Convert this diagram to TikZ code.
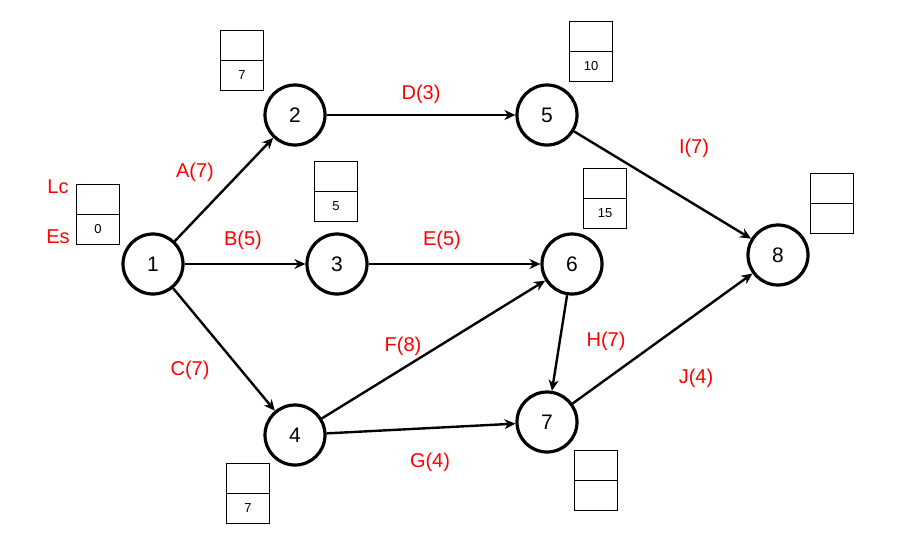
\documentclass[tikz,border=0pt]{standalone}
\usepackage{fontspec}
\setmainfont{Liberation Sans}
\usetikzlibrary{arrows.meta}
\begin{document}
\begin{tikzpicture}[x=1pt,y=-1pt,
  ev/.style={circle,draw,line width=3.2pt,minimum size=60pt,inner sep=0pt,font=\fontsize{21}{21}\selectfont},
  act/.style={-{Stealth[length=11pt,width=10pt]},line width=2.4pt},
  lab/.style={text=red,font=\fontsize{20}{20}\selectfont},
  cell/.style={draw,line width=1pt,minimum width=43pt,minimum height=30pt,inner sep=0pt,font=\fontsize{13}{13}\selectfont}]
\useasboundingbox (0,0) rectangle (909,550);
\node[ev] (n1) at (153,264) {1};
\node[ev] (n2) at (295,115) {2};
\node[ev] (n3) at (337,264) {3};
\node[ev] (n4) at (295,435) {4};
\node[ev] (n5) at (547,115) {5};
\node[ev] (n6) at (572,264) {6};
\node[ev] (n7) at (547,422) {7};
\node[ev] (n8) at (778,255) {8};
\draw[act] (n1) -- (n2);
\draw[act] (n1) -- (n3);
\draw[act] (n1) -- (n4);
\draw[act] (n2) -- (n5);
\draw[act] (n3) -- (n6);
\draw[act] (n4) -- (n6);
\draw[act] (n4) -- (n7);
\draw[act] (n6) -- (n7);
\draw[act] (n5) -- (n8);
\draw[act] (n7) -- (n8);
\node[lab] (lA) at (195,172) {A(7)};
\node[lab] (lB) at (243,240) {B(5)};
\node[lab] (lC) at (190,370) {C(7)};
\node[lab] (lD) at (421,94) {D(3)};
\node[lab] (lE) at (442,240) {E(5)};
\node[lab] (lF) at (403,346) {F(8)};
\node[lab] (lG) at (430,462) {G(4)};
\node[lab] (lH) at (606,341) {H(7)};
\node[lab] (lI) at (694,148) {I(7)};
\node[lab] (lJ) at (696,378) {J(4)};
\node[lab] (lLc) at (58,187) {Lc};
\node[lab] (lEs) at (58,237) {Es};
\foreach \n/\x/\y/\v in {b1/98/184/0, b2/242/30/7, b3/336/161/5, b5/591/21/10, b6/605/168/15, b8/832/173/{}, b4/248/463/7, b7/596/450/{}}{
  \node[cell,anchor=north] (\n t) at (\x,\y) {};
  \node[cell,anchor=north] (\n b) at (\x,\y+30) {\v};
}
\end{tikzpicture}
\end{document}
